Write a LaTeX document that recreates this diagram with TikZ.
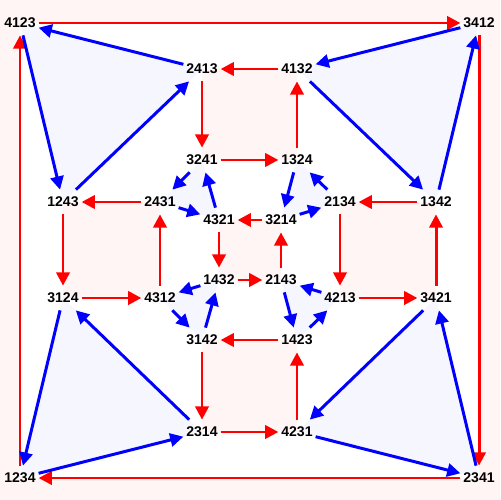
\documentclass[tikz,border=0pt]{standalone}
\usepackage{fontspec}
\setmainfont{Liberation Sans}
\usetikzlibrary{arrows.meta,backgrounds}
\definecolor{rosefond}{HTML}{FFF5F5}
\definecolor{lavande}{HTML}{F6F6FF}

\begin{document}
\begin{tikzpicture}[x=0.02cm,y=-0.02cm]
 \tikzstyle{perm}=[inner xsep=1.5pt,inner ysep=4pt,text=black,font=\fontsize{8}{9}\selectfont\bfseries]
 \tikzstyle{rouge}=[-{Triangle[length=7.5pt,width=7.5pt]},red,line width=1.7pt]
 \tikzstyle{bleu}=[-{Triangle[length=7.5pt,width=7.5pt]},blue,line width=1.7pt]
 \useasboundingbox (0,0) rectangle (500,500);
 %
 \node[perm] (p4123) at (20,23) {4123};
 \node[perm] (p3412) at (479,23) {3412};
 \node[perm] (p1234) at (20,478) {1234};
 \node[perm] (p2341) at (479,478) {2341};
 \node[perm] (p2413) at (202,69) {2413};
 \node[perm] (p4132) at (297,69) {4132};
 \node[perm] (p1243) at (63,202) {1243};
 \node[perm] (p1342) at (436,202) {1342};
 \node[perm] (p3124) at (63,298) {3124};
 \node[perm] (p3421) at (436,298) {3421};
 \node[perm] (p2314) at (202,432) {2314};
 \node[perm] (p4231) at (297,432) {4231};
 \node[perm] (p3241) at (202,160) {3241};
 \node[perm] (p1324) at (297,160) {1324};
 \node[perm] (p2431) at (160,202) {2431};
 \node[perm] (p2134) at (340,202) {2134};
 \node[perm] (p4321) at (219,220) {4321};
 \node[perm] (p3214) at (281,220) {3214};
 \node[perm] (p1432) at (219,280) {1432};
 \node[perm] (p2143) at (281,280) {2143};
 \node[perm] (p4312) at (160,298) {4312};
 \node[perm] (p4213) at (340,298) {4213};
 \node[perm] (p3142) at (202,340) {3142};
 \node[perm] (p1423) at (297,340) {1423};
 %
 \begin{scope}[on background layer]
  \fill[rosefond] (0,0) rectangle (500,500);
  \fill[white] (p4123.center)--(p3412.center)--(p2341.center)--(p1234.center)--cycle;
  \fill[rosefond] (p2413.center)--(p4132.center)--(p1324.center)--(p3241.center)--cycle;
  \fill[rosefond] (p1243.center)--(p2431.center)--(p4312.center)--(p3124.center)--cycle;
  \fill[rosefond] (p2134.center)--(p1342.center)--(p3421.center)--(p4213.center)--cycle;
  \fill[rosefond] (p3142.center)--(p1423.center)--(p4231.center)--(p2314.center)--cycle;
  \fill[rosefond] (p4321.center)--(p3214.center)--(p2143.center)--(p1432.center)--cycle;
  \fill[lavande] (p4123.center)--(p1243.center)--(p2413.center)--cycle;
  \fill[lavande] (p3412.center)--(p4132.center)--(p1342.center)--cycle;
  \fill[lavande] (p1234.center)--(p2314.center)--(p3124.center)--cycle;
  \fill[lavande] (p2341.center)--(p3421.center)--(p4231.center)--cycle;
  \fill[lavande] (p3241.center)--(p2431.center)--(p4321.center)--cycle;
  \fill[lavande] (p1324.center)--(p3214.center)--(p2134.center)--cycle;
  \fill[lavande] (p1432.center)--(p4312.center)--(p3142.center)--cycle;
  \fill[lavande] (p4213.center)--(p2143.center)--(p1423.center)--cycle;
 \end{scope}
 %
 \draw[rouge] (p4123)--(p3412);
 \draw[rouge] (p3412)--(p2341);
 \draw[rouge] (p2341)--(p1234);
 \draw[rouge] (p1234)--(p4123);
 \draw[rouge] (p4132)--(p2413);
 \draw[rouge] (p2413)--(p3241);
 \draw[rouge] (p3241)--(p1324);
 \draw[rouge] (p1324)--(p4132);
 \draw[rouge] (p2431)--(p1243);
 \draw[rouge] (p1243)--(p3124);
 \draw[rouge] (p3124)--(p4312);
 \draw[rouge] (p4312)--(p2431);
 \draw[rouge] (p1342)--(p2134);
 \draw[rouge] (p2134)--(p4213);
 \draw[rouge] (p4213)--(p3421);
 \draw[rouge] (p3421)--(p1342);
 \draw[rouge] (p1423)--(p3142);
 \draw[rouge] (p3142)--(p2314);
 \draw[rouge] (p2314)--(p4231);
 \draw[rouge] (p4231)--(p1423);
 \draw[rouge] (p3214)--(p4321);
 \draw[rouge] (p4321)--(p1432);
 \draw[rouge] (p1432)--(p2143);
 \draw[rouge] (p2143)--(p3214);
 %
 \draw[bleu] (p2413)--(p4123);
 \draw[bleu] (p4123)--(p1243);
 \draw[bleu] (p1243)--(p2413);
 \draw[bleu] (p3412)--(p4132);
 \draw[bleu] (p4132)--(p1342);
 \draw[bleu] (p1342)--(p3412);
 \draw[bleu] (p2314)--(p3124);
 \draw[bleu] (p3124)--(p1234);
 \draw[bleu] (p1234)--(p2314);
 \draw[bleu] (p3421)--(p4231);
 \draw[bleu] (p4231)--(p2341);
 \draw[bleu] (p2341)--(p3421);
 \draw[bleu] (p3241)--(p2431);
 \draw[bleu] (p2431)--(p4321);
 \draw[bleu] (p4321)--(p3241);
 \draw[bleu] (p1324)--(p3214);
 \draw[bleu] (p3214)--(p2134);
 \draw[bleu] (p2134)--(p1324);
 \draw[bleu] (p1432)--(p4312);
 \draw[bleu] (p4312)--(p3142);
 \draw[bleu] (p3142)--(p1432);
 \draw[bleu] (p4213)--(p2143);
 \draw[bleu] (p2143)--(p1423);
 \draw[bleu] (p1423)--(p4213);
\end{tikzpicture}
\end{document}
